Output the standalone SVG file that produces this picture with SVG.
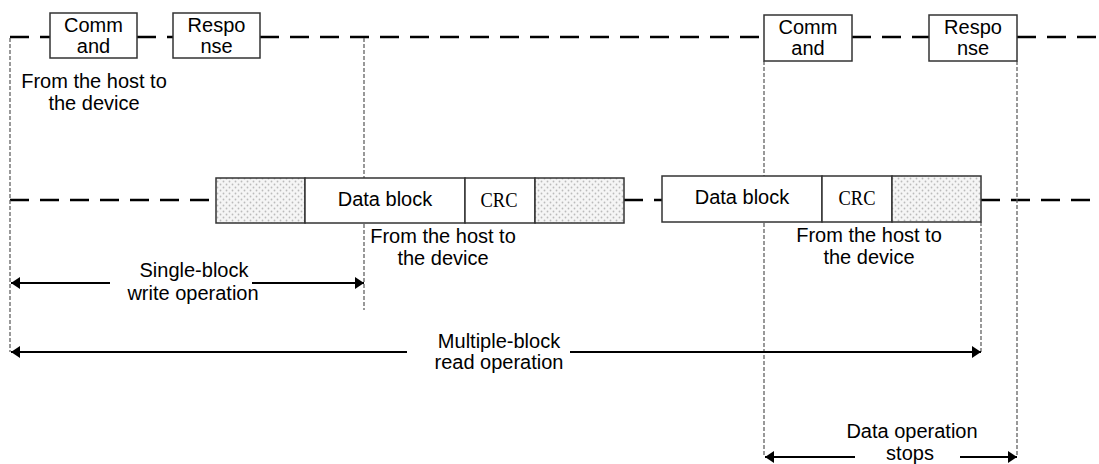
<svg xmlns="http://www.w3.org/2000/svg" width="1099" height="464" viewBox="0 0 1099 464">
<style>
.t{font-family:"Liberation Sans",Arial,sans-serif;font-size:20px;fill:#000;text-anchor:middle}
.s{font-family:"Liberation Serif","Times New Roman",serif;font-size:21px;fill:#000;text-anchor:middle}
.box{fill:#fff;stroke:#333;stroke-width:1.5}
.sh{fill:url(#dots);stroke:#333;stroke-width:1.5}
.bus{stroke:#000;stroke-width:2.5;stroke-dasharray:19 11;fill:none}
.vd{stroke:#555;stroke-width:1.2;stroke-dasharray:4 2;fill:none}
.ar{stroke:#000;stroke-width:2;fill:none}
</style>
<defs>
<pattern id="dots" width="6" height="6" patternUnits="userSpaceOnUse">
<rect width="6" height="6" fill="#f5f5f5"/>
<circle cx="1.5" cy="1.5" r="0.9" fill="#bbb"/>
<circle cx="4.5" cy="4.5" r="0.9" fill="#bbb"/>
</pattern>
<marker id="ah" viewBox="0 0 10 10" refX="10" refY="5" markerWidth="9" markerHeight="12" markerUnits="userSpaceOnUse" orient="auto-start-reverse" preserveAspectRatio="none">
<path d="M0,0 L10,5 L0,10 z" fill="#000"/>
</marker>
</defs>
<g id="connectors">
<line class="bus" x1="10" y1="37" x2="50" y2="37"/>
<line class="bus" x1="137" y1="37" x2="173" y2="37"/>
<line class="bus" x1="260" y1="37" x2="764" y2="37"/>
<line class="bus" x1="852" y1="37" x2="929" y2="37"/>
<line class="bus" x1="1017" y1="37" x2="1099" y2="37"/>
<line class="bus" x1="10" y1="200" x2="216" y2="200"/>
<line class="bus" x1="624" y1="200" x2="662" y2="200"/>
<line class="bus" x1="981" y1="200" x2="1099" y2="200"/>
<line class="vd" x1="10" y1="38" x2="10" y2="352"/>
<line class="vd" x1="364" y1="38" x2="364" y2="310"/>
<line class="vd" x1="764" y1="61" x2="764" y2="457"/>
<line class="vd" x1="1017" y1="61" x2="1017" y2="457"/>
<line class="vd" x1="981" y1="222" x2="981" y2="352"/>
<line class="ar" x1="110" y1="283" x2="11" y2="283" marker-end="url(#ah)"/>
<line class="ar" x1="252" y1="283" x2="364" y2="283" marker-end="url(#ah)"/>
<line class="ar" x1="407" y1="352" x2="11" y2="352" marker-end="url(#ah)"/>
<line class="ar" x1="570" y1="352" x2="981" y2="352" marker-end="url(#ah)"/>
<line class="ar" x1="855" y1="457" x2="765" y2="457" marker-end="url(#ah)"/>
<line class="ar" x1="960" y1="457" x2="1017" y2="457" marker-end="url(#ah)"/>
</g>
<g id="cmd1"><rect class="box" x="50" y="13" width="87" height="45"/><text class="t" x="93.5" y="32">Comm</text><text class="t" x="93.5" y="53">and</text></g>
<g id="resp1"><rect class="box" x="173" y="13" width="87" height="45"/><text class="t" x="216.5" y="32">Respo</text><text class="t" x="216.5" y="53">nse</text></g>
<g id="cmd2"><rect class="box" x="764" y="15" width="88" height="46"/><text class="t" x="808" y="34">Comm</text><text class="t" x="808" y="55">and</text></g>
<g id="resp2"><rect class="box" x="929" y="15" width="88" height="46"/><text class="t" x="973" y="34">Respo</text><text class="t" x="973" y="55">nse</text></g>
<g id="lbl1"><text class="t" x="94" y="88">From the host to</text><text class="t" x="94" y="110">the device</text></g>
<g id="blk1">
<rect class="sh" x="216" y="178" width="89" height="45"/>
<rect class="box" x="305" y="178" width="160" height="45"/><text class="t" x="385" y="206">Data block</text>
<rect class="box" x="465" y="178" width="70" height="45"/><text class="s" x="499" y="207" textLength="37" lengthAdjust="spacingAndGlyphs">CRC</text>
<rect class="sh" x="535" y="178" width="89" height="45"/>
</g>
<g id="blk2">
<rect class="box" x="662" y="176" width="160" height="46"/><text class="t" x="742" y="204">Data block</text>
<rect class="box" x="822" y="176" width="70" height="46"/><text class="s" x="857" y="205" textLength="37" lengthAdjust="spacingAndGlyphs">CRC</text>
<rect class="sh" x="892" y="176" width="89" height="46"/>
</g>
<g id="lbl2"><text class="t" x="443" y="243">From the host to</text><text class="t" x="443" y="265">the device</text></g>
<g id="lbl3"><text class="t" x="869" y="242">From the host to</text><text class="t" x="869" y="264">the device</text></g>
<g id="lbl4"><text class="t" x="194" y="277">Single-block</text><text class="t" x="193" y="300">write operation</text></g>
<g id="lbl5"><text class="t" x="499" y="348">Multiple-block</text><text class="t" x="499" y="369">read operation</text></g>
<g id="lbl6"><text class="t" x="912" y="438">Data operation</text><text class="t" x="910" y="460">stops</text></g>
</svg>
